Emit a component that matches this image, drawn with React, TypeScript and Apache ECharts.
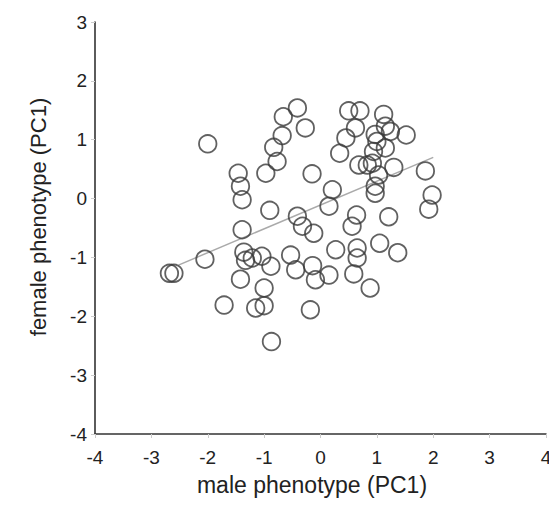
import React, { useEffect, useRef } from "react";
import * as echarts from "echarts";

const maleX: number[] = [
  -2.0, -0.66, -0.41, -0.27, -0.68, -0.83, -0.77, -0.97, -1.46, -1.42, -1.39, -0.9, -0.41, -0.32, -0.12, -1.39,
  0.5, 0.7, 1.12, 0.62, 1.15, 0.97, 1.24, 1.52, 0.45, 1.0, 1.15, 0.94, 0.34, 0.68, 0.83, 0.92, 1.3, 1.86, 1.03,
  -0.15, 0.21, 0.15, 0.97, 0.97, 1.98, 1.92, 0.64, 0.56, 1.21,
  0.27, 0.65, 0.65, 1.05, 1.37, 0.59, 0.88, 0.15, -0.09, -0.14, -0.53, -0.44, -0.18,
  -2.68, -2.6, -2.05, -1.36, -1.33, -1.21, -1.04, -0.88, -1.42, -1.0, -1.71, -1.15, -1.0, -0.87,
];
const femaleY: number[] = [
  0.93, 1.39, 1.54, 1.2, 1.07, 0.87, 0.63, 0.43, 0.43, 0.21, -0.02, -0.2, -0.3, -0.47, -0.59, -0.53,
  1.49, 1.49, 1.43, 1.2, 1.23, 1.09, 1.14, 1.08, 1.03, 0.97, 0.86, 0.8, 0.77, 0.57, 0.57, 0.6, 0.53, 0.47, 0.4,
  0.42, 0.15, -0.13, 0.21, 0.09, 0.06, -0.18, -0.28, -0.47, -0.31,
  -0.87, -0.84, -1.01, -0.76, -0.92, -1.28, -1.52, -1.3, -1.38, -1.14, -0.96, -1.21, -1.89,
  -1.27, -1.27, -1.03, -0.91, -1.05, -1.01, -0.98, -1.15, -1.37, -1.52, -1.81, -1.86, -1.82, -2.43,
];
const fitX: number[] = [-2.52, 2.0];
const fitY: number[] = [-1.13, 0.7];

const xTitle = "male phenotype (PC1)";
const yTitle = "female phenotype (PC1)";

export default function App() {
  const ref = useRef<HTMLDivElement>(null);
  useEffect(() => {
    if (!ref.current) return;
    const chart = echarts.init(ref.current, undefined, { renderer: "svg" });
    const font = "'Liberation Sans', Arial, sans-serif";
    const axisCommon = {
      type: "value" as const,
      interval: 1,
      splitLine: { show: false },
      axisLine: { show: true, onZero: false, lineStyle: { color: "#333", width: 1.6 } },
      axisTick: { show: true, length: 4, lineStyle: { color: "#ccc", width: 1 } },
    };
    chart.setOption({
      animation: false,
      backgroundColor: "#fff",
      grid: { left: 95, right: 11, top: 22, bottom: 80, containLabel: false },
      xAxis: {
        ...axisCommon,
        min: -4,
        max: 4,
        axisLabel: { fontFamily: font, fontSize: 19, color: "#222", margin: 14 },
      },
      yAxis: {
        ...axisCommon,
        min: -4,
        max: 3,
        axisLabel: { fontFamily: font, fontSize: 19, color: "#222", margin: 8 },
      },
      graphic: [
        {
          type: "text",
          x: 38,
          y: 217,
          rotation: Math.PI / 2,
          style: {
            text: yTitle,
            fontFamily: font,
            fontSize: 22,
            fill: "#222",
            textAlign: "center",
            textVerticalAlign: "middle",
          },
        },
        {
          type: "text",
          x: 312,
          y: 485,
          style: {
            text: xTitle,
            fontFamily: font,
            fontSize: 23,
            fill: "#222",
            textAlign: "center",
            textVerticalAlign: "middle",
          },
        },
      ],
      series: [
        {
          type: "line",
          data: fitX.map((x, i) => [x, fitY[i]]),
          symbol: "none",
          lineStyle: { color: "#aaa", width: 1.5 },
          z: 1,
        },
        {
          type: "scatter",
          data: maleX.map((x, i) => [x, femaleY[i]]),
          symbol: "circle",
          symbolSize: 17.5,
          itemStyle: { color: "rgba(0,0,0,0)", borderColor: "#3a3a3a", borderWidth: 1.8 },
          z: 2,
        },
      ],
    });
    return () => chart.dispose();
  }, []);
  return <div ref={ref} style={{ width: 557, height: 514, margin: -8 }} />;
}
